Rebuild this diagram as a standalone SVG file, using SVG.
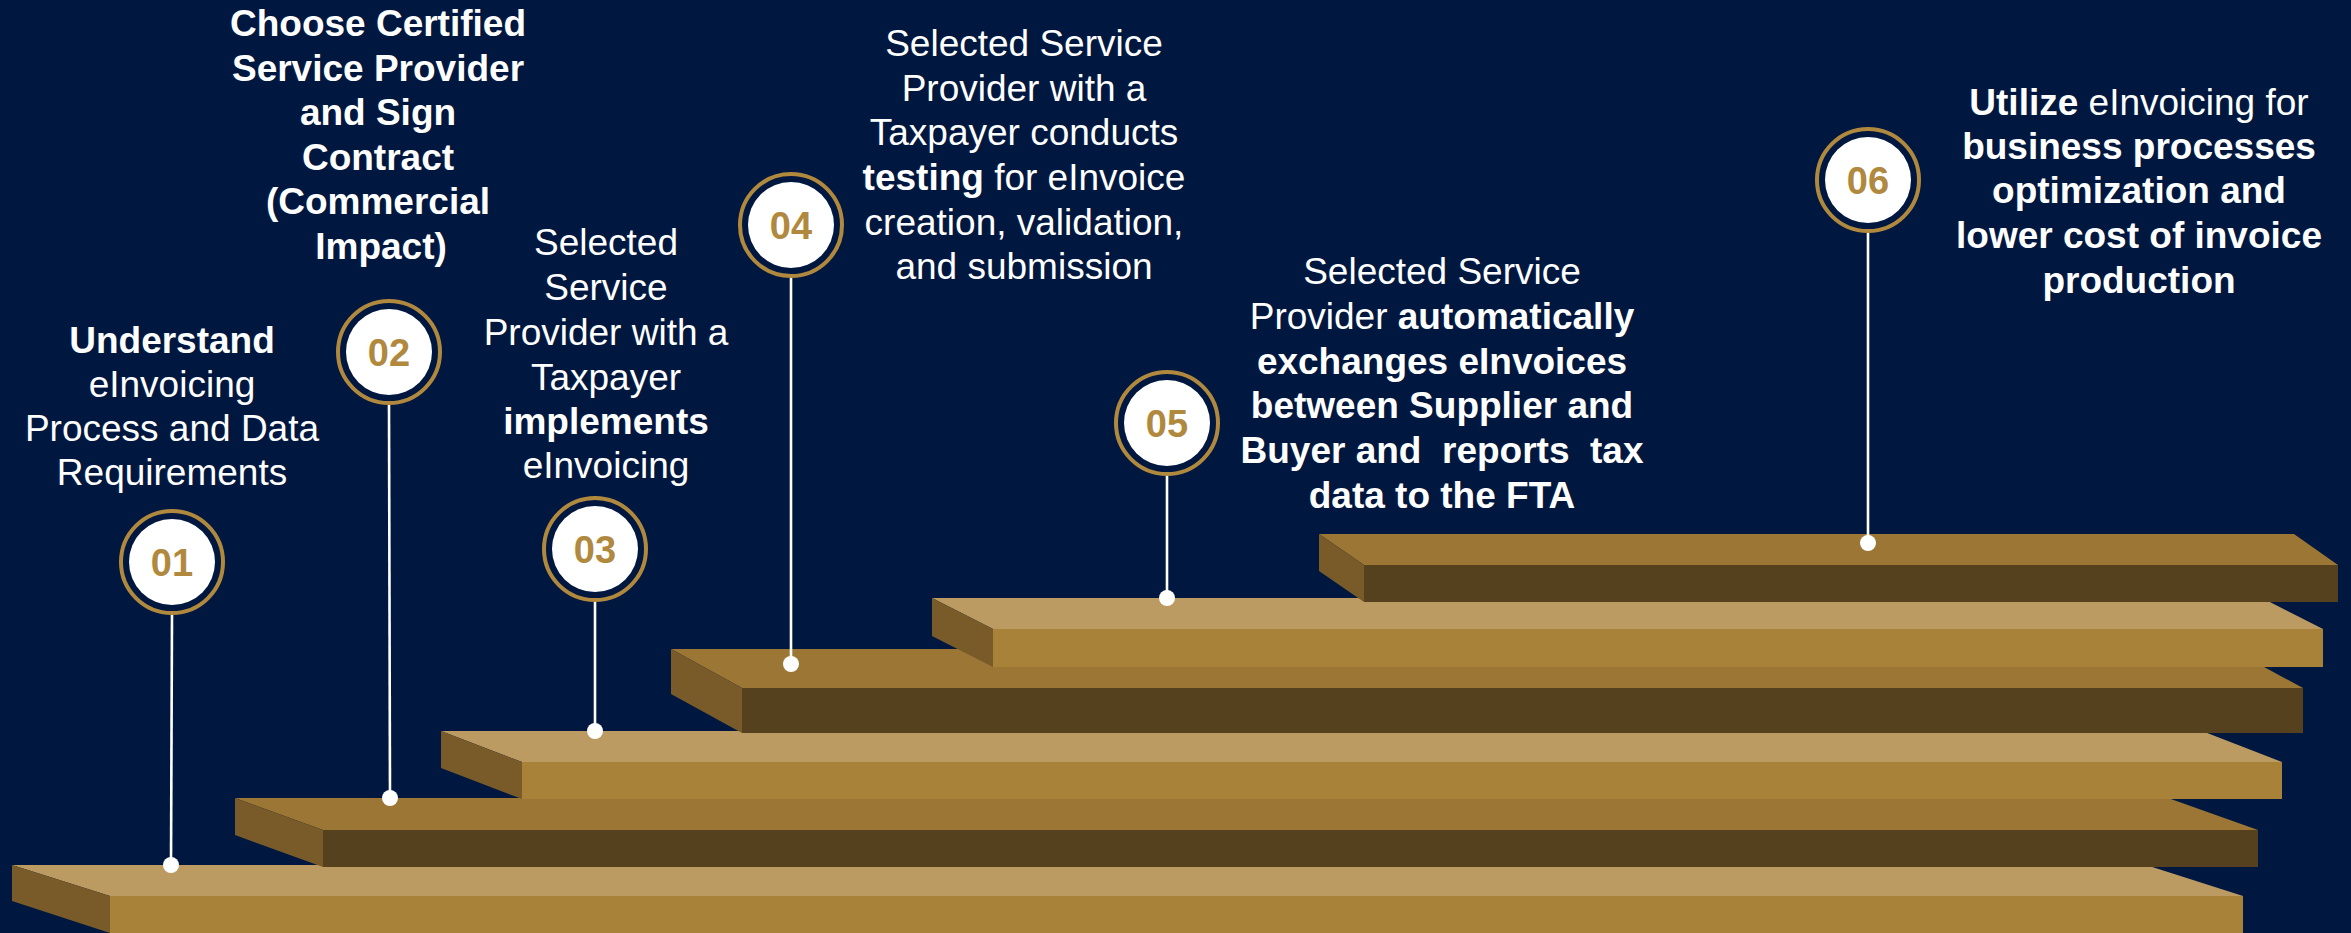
<svg xmlns="http://www.w3.org/2000/svg" width="2351" height="933" viewBox="0 0 2351 933">
<style>
.t{font-family:"Liberation Sans",Arial,sans-serif;font-size:37px;fill:#ffffff;text-anchor:middle}
.b{font-weight:bold}
.num{font-family:"Liberation Sans",Arial,sans-serif;font-size:38px;font-weight:bold;fill:#B0893E;text-anchor:middle}
.ring{fill:none;stroke:#B0893E;stroke-width:4}
.disc{fill:#ffffff}
.ln{stroke:#ffffff;stroke-width:2.6;fill:none}
.dot{fill:#ffffff}
.tl{fill:#BC9B63}.fl{fill:#A9823A}
.td{fill:#9B7634}.fd{fill:#56411E}
.sd{fill:#785B29}
</style>
<rect x="0" y="0" width="2351" height="933" fill="#001840"/>
<g id="steps">
<g id="step1">
<polygon class="tl" points="12,865 2146,865 2243,896 110,896"/>
<rect class="fl" x="110" y="896" width="2133" height="37"/>
<polygon class="sd" points="12,865 110,896 110,933 12,901"/>
</g>
<g id="step2">
<polygon class="td" points="235,798 2168,798 2258,830 323,830"/>
<rect class="fd" x="323" y="830" width="1935" height="37"/>
<polygon class="sd" points="235,798 323,830 323,867 235,835"/>
</g>
<g id="step3">
<polygon class="tl" points="441,731 2202,731 2282,762 522,762"/>
<rect class="fl" x="522" y="762" width="1760" height="37"/>
<polygon class="sd" points="441,731 522,762 522,799 441,768"/>
</g>
<g id="step4">
<polygon class="td" points="671,649 2231,649 2303,688 742,688"/>
<rect class="fd" x="742" y="688" width="1561" height="45"/>
<polygon class="sd" points="671,649 742,688 742,733 671,694"/>
</g>
<g id="step5">
<polygon class="tl" points="932,598 2262,598 2323,629 993,629"/>
<rect class="fl" x="993" y="629" width="1330" height="38"/>
<polygon class="sd" points="932,598 993,629 993,667 932,636"/>
</g>
<g id="step6">
<polygon class="td" points="1319,534 2294,534 2338,565 1364,565"/>
<rect class="fd" x="1364" y="565" width="974" height="37"/>
<polygon class="sd" points="1319,534 1364,565 1364,602 1319,571"/>
</g>
</g>
<g id="connectors">
<line class="ln" x1="172" y1="615" x2="171" y2="865"/>
<line class="ln" x1="389" y1="405" x2="390" y2="798"/>
<line class="ln" x1="595" y1="602" x2="595" y2="731"/>
<line class="ln" x1="791" y1="278" x2="791" y2="664"/>
<line class="ln" x1="1167" y1="476" x2="1167" y2="598"/>
<line class="ln" x1="1868" y1="233" x2="1868" y2="543"/>
<circle class="dot" cx="171" cy="865" r="8"/>
<circle class="dot" cx="390" cy="798" r="8"/>
<circle class="dot" cx="595" cy="731" r="8"/>
<circle class="dot" cx="791" cy="664" r="8"/>
<circle class="dot" cx="1167" cy="598" r="8"/>
<circle class="dot" cx="1868" cy="543" r="8"/>
</g>
<g id="node1">
<circle class="ring" cx="172" cy="562" r="51"/>
<circle class="disc" cx="172" cy="562" r="43"/>
<text class="num" x="172" y="576">01</text>
<text class="t" x="172" y="353"><tspan class="b">Understand</tspan></text>
<text class="t" x="172" y="397">eInvoicing</text>
<text class="t" x="172" y="441">Process and Data</text>
<text class="t" x="172" y="485">Requirements</text>
</g>
<g id="node2">
<circle class="ring" cx="389" cy="352" r="51"/>
<circle class="disc" cx="389" cy="352" r="43"/>
<text class="num" x="389" y="366">02</text>
<text class="t b" x="378" y="36">Choose Certified</text>
<text class="t b" x="378" y="80.5">Service Provider</text>
<text class="t b" x="378" y="125">and Sign</text>
<text class="t b" x="378" y="169.5">Contract</text>
<text class="t b" x="378" y="214">(Commercial</text>
<text class="t b" x="381" y="258.5">Impact)</text>
</g>
<g id="node3">
<circle class="ring" cx="595" cy="549" r="51"/>
<circle class="disc" cx="595" cy="549" r="43"/>
<text class="num" x="595" y="563">03</text>
<text class="t" x="606" y="255">Selected</text>
<text class="t" x="606" y="300">Service</text>
<text class="t" x="606" y="345">Provider with a</text>
<text class="t" x="606" y="390">Taxpayer</text>
<text class="t b" x="606" y="434">implements</text>
<text class="t" x="606" y="478">eInvoicing</text>
</g>
<g id="node4">
<circle class="ring" cx="791" cy="225" r="51"/>
<circle class="disc" cx="791" cy="225" r="43"/>
<text class="num" x="791" y="239">04</text>
<text class="t" x="1024" y="56">Selected Service</text>
<text class="t" x="1024" y="101">Provider with a</text>
<text class="t" x="1024" y="145">Taxpayer conducts</text>
<text class="t" x="1024" y="190"><tspan class="b">testing</tspan> for eInvoice</text>
<text class="t" x="1024" y="235">creation, validation,</text>
<text class="t" x="1024" y="279">and submission</text>
</g>
<g id="node5">
<circle class="ring" cx="1167" cy="423" r="51"/>
<circle class="disc" cx="1167" cy="423" r="43"/>
<text class="num" x="1167" y="437">05</text>
<text class="t" x="1442" y="284">Selected Service</text>
<text class="t" x="1442" y="329">Provider <tspan class="b">automatically</tspan></text>
<text class="t b" x="1442" y="374">exchanges eInvoices</text>
<text class="t b" x="1442" y="418">between Supplier and</text>
<text class="t b" x="1442" y="463" style="white-space:pre">Buyer and  reports  tax</text>
<text class="t b" x="1442" y="508">data to the FTA</text>
</g>
<g id="node6">
<circle class="ring" cx="1868" cy="180" r="51"/>
<circle class="disc" cx="1868" cy="180" r="43"/>
<text class="num" x="1868" y="194">06</text>
<text class="t" x="2139" y="115"><tspan class="b">Utilize</tspan> eInvoicing for</text>
<text class="t b" x="2139" y="159">business processes</text>
<text class="t b" x="2139" y="203">optimization and</text>
<text class="t b" x="2139" y="248">lower cost of invoice</text>
<text class="t b" x="2139" y="293">production</text>
</g>
</svg>
